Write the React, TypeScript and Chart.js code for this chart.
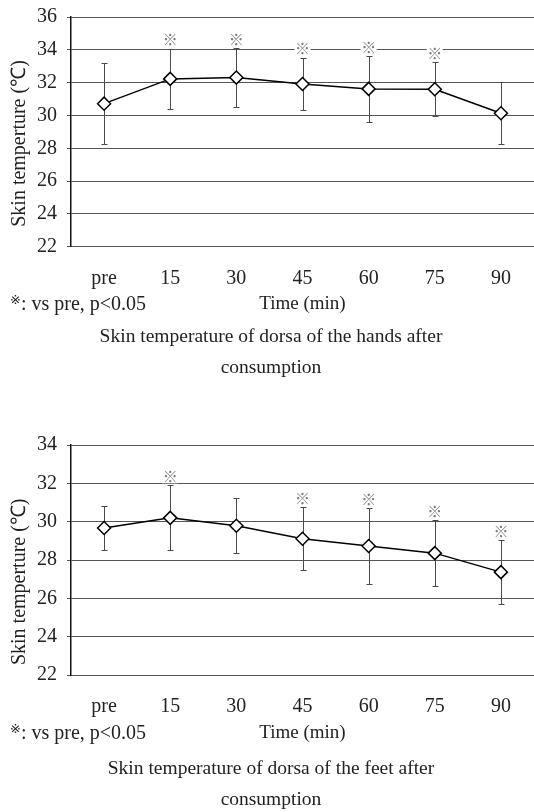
import React, { useEffect, useRef } from "react";
import { Chart, registerables } from "chart.js";

Chart.register(...registerables);

// ---------- data ----------
const timeLabels = ["pre", "15", "30", "45", "60", "75", "90"];

const handsMean = [30.72, 32.23, 32.31, 31.92, 31.62, 31.6, 30.14];
const handsSD = [2.48, 1.84, 1.79, 1.61, 2.0, 1.66, 1.9];
const handsSig = [false, true, true, true, true, true, false];
const handsYRange = [22, 36];

const feetMean = [29.67, 30.2, 29.79, 29.11, 28.73, 28.36, 27.37];
const feetSD = [1.15, 1.7, 1.43, 1.64, 1.97, 1.73, 1.68];
const feetSig = [false, true, false, true, true, true, true];
const feetYRange = [22, 34];

const yStep = 2;
const yAxisTitle = "Skin temperture (℃)";
const xAxisTitle = "Time (min)";
const noteMark = "※";
const noteText = ": vs pre, p<0.05";
const sigMark = "※";
const handsCaption = ["Skin temperature of dorsa of the hands after", "consumption"];
const feetCaption = ["Skin temperature of dorsa of the feet after", "consumption"];

const SERIF = "'Liberation Serif', 'Times New Roman', serif";

const errorBarPlugin = {
  id: "errorBars",
  beforeDatasetsDraw(chart: any, _args: any, opts: any) {
    const { ctx } = chart;
    const x = chart.scales.x;
    const y = chart.scales.y;
    const sd: number[] = opts.sd;
    const sig: boolean[] = opts.sig;
    const means = chart.data.datasets[0].data as number[];
    ctx.save();
    ctx.strokeStyle = "#4a4a4a";
    ctx.lineWidth = 1;
    means.forEach((m, i) => {
      const px = Math.round(x.getPixelForValue(i)) + 0.5;
      const top = Math.round(y.getPixelForValue(m + sd[i])) + 0.5;
      const bot = Math.round(y.getPixelForValue(m - sd[i])) + 0.5;
      ctx.beginPath();
      ctx.moveTo(px, top);
      ctx.lineTo(px, bot);
      ctx.moveTo(px - 3, top);
      ctx.lineTo(px + 3, top);
      ctx.moveTo(px - 3, bot);
      ctx.lineTo(px + 3, bot);
      ctx.stroke();
    });
    ctx.font = "15px 'Noto Sans CJK JP', 'DejaVu Sans', sans-serif";
    ctx.textAlign = "center";
    ctx.textBaseline = "middle";
    means.forEach((m, i) => {
      if (!sig[i]) return;
      const px = x.getPixelForValue(i);
      const cy = y.getPixelForValue(m + sd[i]) - 9;
      ctx.fillStyle = "#ffffff";
      ctx.fillRect(px - 8, cy - 7, 16, 14);
      ctx.fillStyle = "#7a7a7a";
      ctx.fillText(sigMark, px, cy);
    });
    ctx.restore();
  },
  afterDraw(chart: any) {
    const { ctx } = chart;
    const x = chart.scales.x;
    const cy = x.bottom - 11.4;
    ctx.save();
    ctx.fillStyle = "#222";
    ctx.textBaseline = "middle";
    ctx.textAlign = "left";
    ctx.font = "13px 'DejaVu Sans', sans-serif";
    ctx.fillText(noteMark, 10, cy - 4);
    const w = ctx.measureText(noteMark).width;
    ctx.font = `20px ${SERIF}`;
    ctx.fillText(noteText, 10 + w, cy);
    ctx.restore();
  },
};

type Cfg = {
  mean: number[];
  sd: number[];
  sig: boolean[];
  range: number[];
  caption: string[];
  padTop: number;
  padBottom: number;
  tickPad: number;
  xAxisHeight: number;
  capPadTop: number;
  yTitleLead: number;
};

const LEFT_PAD = 8;
const Y_AXIS_RIGHT = 71;

function makeConfig(c: Cfg): any {
  return {
    type: "line",
    data: {
      labels: timeLabels,
      datasets: [
        {
          data: c.mean,
          borderColor: "#000",
          borderWidth: 1.5,
          pointStyle: "rectRot",
          pointRadius: 6.5,
          pointHoverRadius: 6.5,
          pointBackgroundColor: "#fff",
          pointBorderColor: "#000",
          pointBorderWidth: 1.5,
          tension: 0,
        },
      ],
    },
    options: {
      responsive: false,
      animation: false,
      events: [],
      layout: {
        autoPadding: false,
        padding: { top: c.padTop, bottom: c.padBottom, left: LEFT_PAD, right: 0 },
      },
      scales: {
        x: {
          offset: true,
          afterFit(scale: any) {
            scale.height = c.xAxisHeight;
            scale.paddingLeft = 0;
            scale.paddingRight = 0;
          },
          grid: { display: false, drawTicks: false },
          border: { display: true, color: "#555", width: 1 },
          ticks: { color: "#222", font: { family: SERIF, size: 20 }, padding: c.tickPad },
          title: {
            display: true,
            text: xAxisTitle,
            color: "#222",
            font: { family: SERIF, size: 19 },
            padding: { top: 0, bottom: 0 },
          },
        },
        y: {
          min: c.range[0],
          max: c.range[1],
          afterFit(scale: any) {
            scale.width = Y_AXIS_RIGHT - LEFT_PAD;
            scale.paddingTop = 0;
            scale.paddingBottom = 0;
          },
          ticks: { stepSize: yStep, color: "#222", font: { family: SERIF, size: 20 }, padding: 10 },
          grid: { color: "#555", lineWidth: 1, tickLength: 4, drawTicks: true },
          border: { display: true, color: "#111", width: 1.5 },
          title: {
            display: true,
            align: "start",
            text: "\u00a0".repeat(c.yTitleLead) + yAxisTitle,
            color: "#222",
            font: { family: SERIF, size: 20 },
            padding: { top: 0, bottom: 0 },
          },
        },
      },
      plugins: {
        legend: { display: false },
        tooltip: { enabled: false },
        title: {
          display: true,
          position: "bottom",
          text: c.caption,
          color: "#222",
          font: { family: SERIF, size: 19.5, weight: "normal", lineHeight: "31px" },
          padding: { top: c.capPadTop, bottom: 0 },
        },
        errorBars: { sd: c.sd, sig: c.sig },
      },
    },
    plugins: [errorBarPlugin],
  };
}

function ChartCanvas({ cfg, width, height }: { cfg: Cfg; width: number; height: number }) {
  const ref = useRef<HTMLCanvasElement | null>(null);
  useEffect(() => {
    if (!ref.current) return;
    const chart = new Chart(ref.current, makeConfig(cfg));
    return () => chart.destroy();
  }, [cfg]);
  return <canvas ref={ref} width={width} height={height} style={{ display: "block", width, height }} />;
}

const handsCfg: Cfg = {
  mean: handsMean,
  sd: handsSD,
  sig: handsSig,
  range: handsYRange,
  caption: handsCaption,
  padTop: 17,
  padBottom: 16.5,
  tickPad: 20.2,
  xAxisHeight: 69.1,
  capPadTop: 5.6,
  yTitleLead: 4,
};

const feetCfg: Cfg = {
  mean: feetMean,
  sd: feetSD,
  sig: feetSig,
  range: feetYRange,
  caption: feetCaption,
  padTop: 45,
  padBottom: 0,
  tickPad: 19.4,
  xAxisHeight: 69.8,
  capPadTop: 8.1,
  yTitleLead: 2,
};

export default function App() {
  return (
    <div
      style={{
        position: "absolute",
        left: 0,
        top: 0,
        width: 534,
        height: 812,
        overflow: "hidden",
        background: "#fff",
      }}
    >
      <div style={{ position: "absolute", left: 0, top: 0 }}>
        <ChartCanvas cfg={handsCfg} width={534} height={400} />
      </div>
      <div style={{ position: "absolute", left: 0, top: 400 }}>
        <ChartCanvas cfg={feetCfg} width={534} height={415} />
      </div>
    </div>
  );
}
